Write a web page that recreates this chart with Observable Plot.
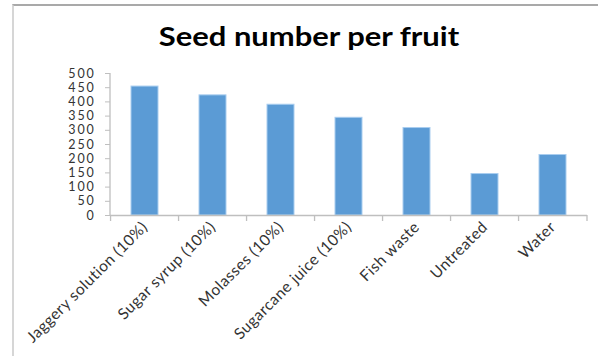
<!DOCTYPE html>
<html>
<head>
<meta charset="utf-8">
<script src="https://cdn.jsdelivr.net/npm/d3@7"></script>
<script src="https://cdn.jsdelivr.net/npm/@observablehq/plot@0.6"></script>
<style>
  html, body { margin: 0; padding: 0; background: #fff; }
  #wrap { position: relative; width: 598px; height: 356px; overflow: hidden; font-family: Lato, "Open Sans", sans-serif; }
  #border { position: absolute; left: 12px; top: 4px; width: 620px; height: 380px;
            border-top: 2px solid #a9a9a9; border-left: 2px solid #d6d6d6; box-sizing: border-box; }
  #title { position: absolute; left: 0; width: 618px; top: 20px; text-align: center;
           font: bold 26px Lato, sans-serif; color: #000; transform: scaleX(1.19); transform-origin: 309px 0; }
  #chart { position: absolute; left: 0; top: 0; }
</style>
</head>
<body>
<div id="wrap">
  <div id="border"></div>
  <div id="chart"></div>
  <div id="title">Seed number per fruit</div>
</div>
<script>
const categories = ["Jaggery solution (10%)", "Sugar syrup (10%)", "Molasses (10%)", "Sugarcane juice (10%)", "Fish waste", "Untreated", "Water"];
const seeds = [454, 423, 390, 344, 308, 146, 213];
const yTicks = [0, 50, 100, 150, 200, 250, 300, 350, 400, 450, 500];

const data = categories.map((c, i) => ({category: c, value: seeds[i]}));
const W = 598, H = 356, ML = 110, MR = 11, MT = 73, MB = 141;
const padInner = 0.6, padOuter = 0.3;

function bandBoundaries(index, scales, values, dim) {
  const step = (dim.width - dim.marginLeft - dim.marginRight) / categories.length;
  const y0 = scales.y(0);
  const g = d3.create("svg:g").attr("stroke", "#bfbfbf").attr("stroke-width", 1.3);
  const xs = categories.map(c => scales.x(c) - padOuter * step);
  xs.push(dim.width - dim.marginRight);
  for (const x of xs) {
    g.append("line").attr("x1", x).attr("x2", x).attr("y1", y0).attr("y2", y0 + 6);
  }
  g.append("line").attr("x1", dim.marginLeft).attr("x2", dim.marginLeft)
    .attr("y1", scales.y(500)).attr("y2", y0);
  return g.node();
}

const chart = Plot.plot({
  width: W, height: H,
  marginLeft: ML, marginRight: MR, marginTop: MT, marginBottom: MB,
  style: {fontFamily: "Lato, sans-serif", background: "transparent", overflow: "visible"},
  x: {domain: categories, paddingInner: padInner, paddingOuter: padOuter, label: null},
  y: {domain: [0, 500], label: null},
  marks: [
    Plot.barY(data, {x: "category", y: "value", fill: "#5b9bd5", stroke: "#a9cdef", strokeWidth: 1}),
    Plot.ruleY([0], {stroke: "#bfbfbf", strokeWidth: 1.3}),
    bandBoundaries,
    Plot.axisY({ticks: yTicks, tickSize: 5, tickPadding: 10, stroke: "#bfbfbf", fill: "#333", fontSize: 12.5, tickFormat: d => String(d)}),
    Plot.axisX({tickRotate: -45, tickSize: 0, tickPadding: 9, fill: "#333", fontSize: 15.5})
  ]
});
d3.select(chart).selectAll('[aria-label="y-axis tick label"] text').attr("letter-spacing", "1.8px");
d3.select(chart).selectAll('[aria-label="x-axis tick label"] text').attr("letter-spacing", "0.5px");
document.getElementById("chart").appendChild(chart);
</script>
</body>
</html>
